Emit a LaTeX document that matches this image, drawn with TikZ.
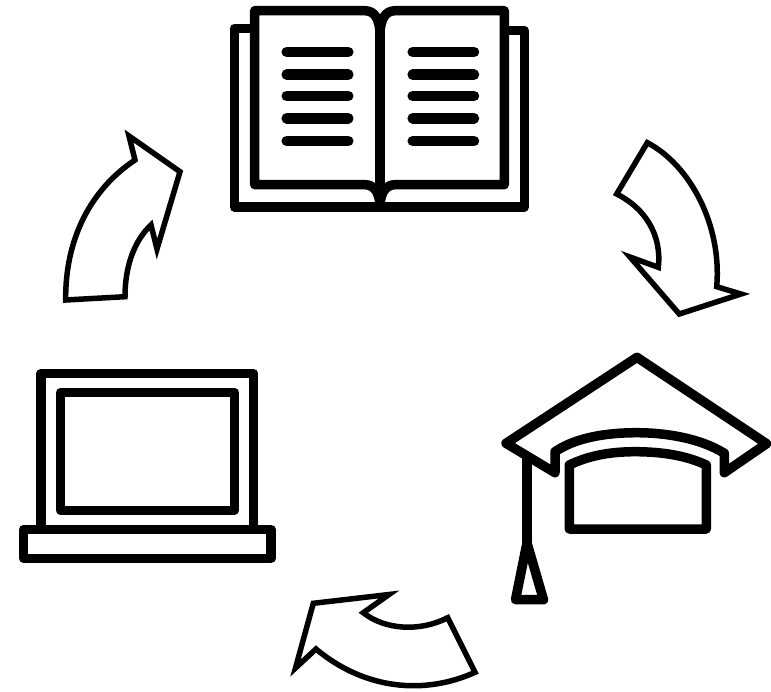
\documentclass[tikz,border=0pt]{standalone}
\usepackage{tikz}

\begin{document}
\begin{tikzpicture}[
    x=1pt, y=-1pt,
    icon/.style={draw=black, line width=9.5pt, line join=round},
    textline/.style={draw=black, line width=10.5pt, line cap=round},
    cyclearrow/.style={draw=black, line width=5.5pt, line join=miter, miter limit=10}
]
\useasboundingbox (0,0) rectangle (771,691);

% book
\draw [icon] (254,28.3) -- (234.3,28.3) -- (234.3,207) -- (524.3,207) -- (524.3,30.7) -- (505,30.7);
\draw [icon] (380,35) .. controls (380,20) and (375,10.7) .. (365,10.7) -- (254.7,10.7) -- (254.7,184.7) -- (365,184.7) .. controls (372,184.7) and (380,190) .. (380,207);
\draw [icon] (380,35) .. controls (380,20) and (385,10.7) .. (395,10.7) -- (504.3,10.7) -- (504.3,184.7) -- (395,184.7) .. controls (388,184.7) and (380,190) .. (380,207);
\draw [icon] (380,35) -- (380,207);
\foreach \y in {52,74.7,96,118.3,141} {
    \draw [textline] (286.7,\y) -- (348.3,\y);
    \draw [textline] (412.7,\y) -- (474,\y);
}

% arrow to cap
\draw [cyclearrow] (647.3,142.7) .. controls (690,165) and (722,225) .. (716.7,286.7) -- (741,294) -- (679.3,314) -- (630,257) -- (658.3,267.3) .. controls (662,235) and (645,208) .. (616.7,194) -- cycle;

% cap
\draw [icon] (637,357.3) -- (766.5,443.7) -- (724.3,472.7) -- (724.3,453.3) .. controls (700,438) and (665,432.7) .. (636.7,432.7) .. controls (605,432.7) and (575,438) .. (555,451.7) -- (555,472.7) -- (506,443.3) -- cycle;
\draw [icon] (569.3,465) .. controls (590,455) and (612,451.7) .. (635,451.7) .. controls (660,451.7) and (685,455) .. (706.3,465) -- (706.3,529) -- (569.3,529) -- cycle;
\draw [icon] (527,458) -- (527,543);
\draw [icon] (527,543) -- (543.5,599.7) -- (515.5,599.7) -- cycle;

% arrow to laptop
\draw [cyclearrow] (447.7,617.7) -- (475,672.3) .. controls (425,695) and (365,690) .. (316,649) -- (295.5,668) -- (313.3,603.3) -- (389,594.5) -- (363.3,612.7) .. controls (385,630) and (420,632) .. (447.7,617.7) -- cycle;

% laptop
\draw [icon] (41,529.3) -- (41,373.7) -- (253.7,373.7) -- (253.7,529.3);
\draw [icon] (60.7,392.3) rectangle (234.3,510.3);
\draw [icon] (23.7,529.3) rectangle (271,558.3);

% arrow to book
\draw [cyclearrow] (65.7,300) .. controls (65,240) and (90,190) .. (135,160) -- (129,136) -- (180,171.7) -- (157,249) -- (151,225) .. controls (135,240) and (125,265) .. (125,296.7) -- cycle;
\end{tikzpicture}
\end{document}
